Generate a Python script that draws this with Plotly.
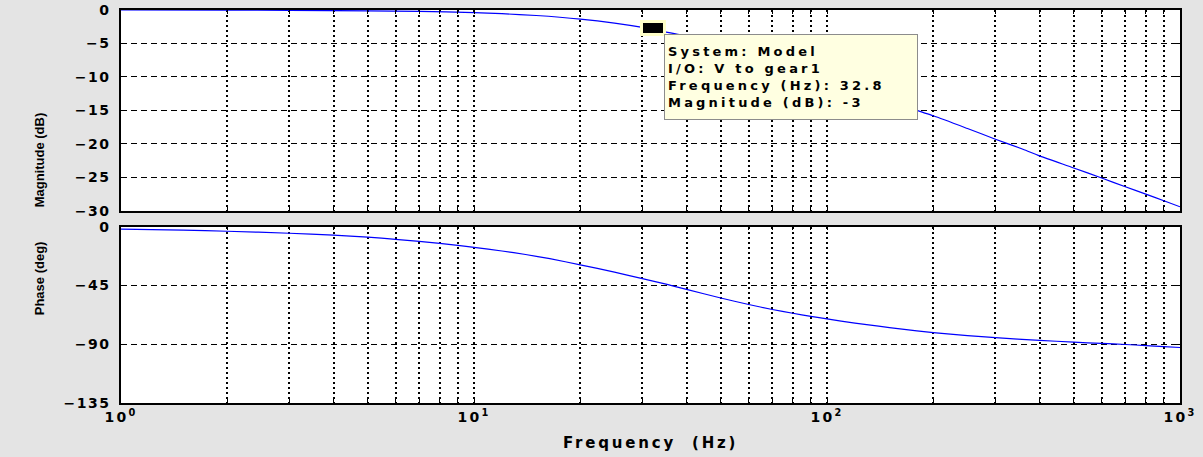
import numpy as np
import plotly.graph_objects as go

# ---------------- data ----------------
freq_mag = [1, 2, 3, 5, 7, 10, 12, 15, 20, 25, 30, 32.8, 40, 50, 60, 70, 85,
            100, 120, 150, 200, 250, 300, 359, 400, 500, 600, 700, 800, 900, 1000]
mag_db = [0.0, -0.02, -0.05, -0.12, -0.22, -0.38, -0.55, -0.82, -1.35, -1.95,
          -2.6, -3.0, -3.9, -5.2, -6.4, -7.6, -9.1, -10.4, -11.9, -13.7, -15.8,
          -17.7, -19.3, -20.8, -21.8, -23.6, -25.1, -26.4, -27.5, -28.5, -29.4]

freq_phase = [1, 1.5, 2, 3, 4, 5, 6, 7, 8, 9, 10, 12, 14, 16.4, 20, 25, 30, 35,
              40, 50, 60, 70, 80, 90, 100, 120, 140, 161, 200, 250, 300, 400,
              500, 600, 700, 800, 900, 1000]
phase_deg = [-1.8, -2.6, -3.5, -5.0, -6.4, -8.0, -9.7, -11.3, -12.8, -14.3,
             -15.8, -18.6, -21.3, -24.5, -29.2, -34.8, -39.8, -44.0, -48.0,
             -54.6, -59.6, -63.4, -66.3, -68.6, -70.6, -73.8, -76.2, -78.3,
             -81.1, -83.4, -85.0, -87.0, -88.4, -89.4, -90.2, -91.0, -91.8, -92.5]

mag_ticks = [0, -5, -10, -15, -20, -25, -30]
phase_ticks = [0, -45, -90, -135]
decades = [1, 10, 100, 1000]
decade_labels = ["10<sup>0</sup>", "10<sup>1</sup>", "10<sup>2</sup>", "10<sup>3</sup>"]

tip_freq = 32.8
tip_mag = -3
tip_lines = ["System: Model", "I/O: V to gear1", "Frequency (Hz): 32.8",
             "Magnitude (dB): -3"]
title_text = "Bode Diagram of Velocity Loop (Open)"

# ---------------- figure ----------------
SP = "letter-spacing:{}px"


def wide(t, s=2.2):
    return '<span style="%s">%s</span>' % (SP.format(s), t)


grid_x = [m * d for d in [1, 10, 100] for m in range(1, 10)] + [1000]
grid_x_text = [wide(decade_labels[decades.index(v)]) if v in decades else "" for v in grid_x]

fig = go.Figure()
fig.add_trace(go.Scatter(x=freq_mag, y=mag_db, mode="lines",
                         line=dict(color="#0000ff", width=1.2, shape="spline", smoothing=0.6),
                         xaxis="x", yaxis="y", showlegend=False, hoverinfo="skip"))
fig.add_trace(go.Scatter(x=freq_phase, y=phase_deg, mode="lines",
                         line=dict(color="#0000ff", width=1.2, shape="spline", smoothing=0.6),
                         xaxis="x2", yaxis="y2", showlegend=False, hoverinfo="skip"))

tickfont = dict(family="DejaVu Sans", size=14, color="black", weight="bold")

xcommon = dict(type="log", range=[0, 3], tickmode="array", tickvals=grid_x,
               showgrid=True, gridcolor="black", griddash="2px,3px", gridwidth=1.5,
               showline=True, linecolor="black", linewidth=1.5, mirror="allticks",
               ticks="inside", ticklen=4, tickcolor="black", zeroline=False,
               tickfont=tickfont, automargin=False)
ycommon = dict(showgrid=True, gridcolor="black", griddash="6px,4px", gridwidth=1.2,
               showline=True, linecolor="black", linewidth=1.5, mirror="allticks",
               ticks="inside", ticklen=4, tickcolor="black", zeroline=False,
               tickfont=tickfont, ticklabelstandoff=6, tickmode="array",
               automargin=False)

fig.update_layout(
    width=1203, height=457,
    margin=dict(l=121, r=23, t=10, b=54),
    paper_bgcolor="#e4e4e4", plot_bgcolor="white",
    xaxis=dict(xcommon, domain=[0, 1], anchor="y", ticktext=[""] * len(grid_x)),
    yaxis=dict(ycommon, domain=[0.489, 1], range=[-30, 0], tickvals=mag_ticks,
               ticktext=[wide(str(v).replace("-", "\u2212"), 1.5) for v in mag_ticks]),
    xaxis2=dict(xcommon, domain=[0, 1], anchor="y2", ticktext=grid_x_text),
    yaxis2=dict(ycommon, domain=[0, 0.4486], range=[-135, 0], tickvals=phase_ticks,
                ticktext=[wide(str(v).replace("-", "\u2212"), 1.5) for v in phase_ticks]),
)

ann = []
# y axis titles
ann.append(dict(text="Magnitude (dB)", xref="paper", yref="paper", x=-0.086,
                y=(0.489 + 1) / 2, textangle=-90, showarrow=False,
                font=dict(family="Liberation Sans", size=13, color="black", weight="bold")))
ann.append(dict(text="Phase (deg)", xref="paper", yref="paper", x=-0.086,
                y=0.4486 / 2 - 0.005, textangle=-90, showarrow=False,
                font=dict(family="Liberation Sans", size=13, color="black", weight="bold")))
# x axis title
ann.append(dict(text=wide("Frequency  (Hz)", 2.8), xref="paper", yref="paper",
                x=0.5, y=-0.1018, yanchor="middle", showarrow=False,
                font=dict(family="DejaVu Sans", size=15, color="black", weight="bold")))
# clipped title at the very top
ann.append(dict(text=title_text, xref="paper", yref="paper", x=0.44, y=1.0,
                yanchor="bottom", yshift=9, showarrow=False,
                font=dict(family="Liberation Serif", size=17, color="black", weight="bold")))
# data tip marker
ann.append(dict(text=" ", x=np.log10(tip_freq), y=tip_mag, xref="x", yref="y",
                showarrow=False, width=20, height=10, bgcolor="black",
                bordercolor="#ffffc8", borderwidth=3, borderpad=0, xshift=-3, yshift=2))
# data tip box
ann.append(dict(text="<br>".join(wide(t, 3.2) for t in tip_lines), x=np.log10(tip_freq),
                y=tip_mag, xref="x", yref="y", showarrow=False, xanchor="left",
                yanchor="top", align="left", xshift=8, yshift=-4,
                width=246, height=78, bgcolor="#ffffe1", bordercolor="#8c8c8c",
                borderwidth=1, borderpad=3,
                font=dict(family="DejaVu Sans", size=13, color="black", weight="bold")))
fig.update_layout(annotations=ann)

fig.write_html("out.html", config={"displayModeBar": False},
               post_script="document.body.style.margin='0';"
                           "document.body.style.background='#e4e4e4';")
